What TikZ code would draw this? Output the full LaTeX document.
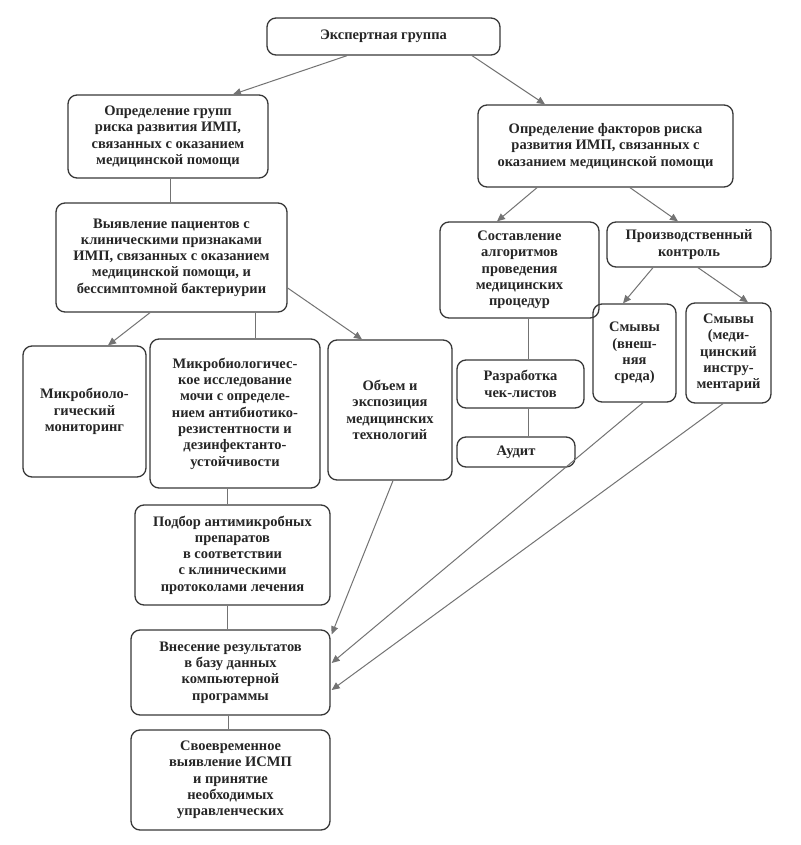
\documentclass[tikz,border=0pt]{standalone}
\usepackage{fontspec}
\setmainfont{Liberation Serif}
\usetikzlibrary{arrows.meta,calc}
\begin{document}
\begin{tikzpicture}[x=1pt,y=-1pt,
  box/.style={draw=black!78, line width=1.3pt, rounded corners=9pt, align=center,
    inner sep=0pt, font=\fontsize{14.5}{16.3}\selectfont\bfseries, text=black!85},
  sz/.style n args={2}{minimum width=#1pt, minimum height=#2pt},
  conn/.style={draw=black!55, line width=1pt},
  arr/.style={conn, -{Triangle[length=8pt,width=7pt]}}]
\useasboundingbox (0,0) rectangle (800,845);
\fill[white] (0,0) rectangle (800,845);

\node[box, sz={233}{37}] (exp) at (383.5,36.5) {Экспертная группа};
\node[box, sz={200}{83}] (a) at (168,136.5) {Определение групп\\риска развития ИМП,\\связанных с оказанием\\медицинской помощи};
\node[box, sz={255}{82}] (b) at (605.5,146) {Определение факторов риска\\развития ИМП, связанных с\\оказанием медицинской помощи};
\node[box, sz={231}{109}] (c) at (171.5,257.5) {Выявление пациентов с\\клиническими признаками\\ИМП, связанных с оказанием\\медицинской помощи, и\\бессимптомной бактериурии};
\node[box, sz={159}{96}] (d) at (519.5,270) {Составление\\алгоритмов\\проведения\\медицинских\\процедур};
\node[box, sz={164}{45}] (e) at (689,244.5) {Производственный\\контроль};
\node[box, sz={83}{98}] (s1) at (634.5,353) {Смывы\\(внеш-\\няя\\среда)};
\node[box, sz={85}{100}] (s2) at (728.5,353) {Смывы\\(меди-\\цинский\\инстру-\\ментарий};
\node[box, sz={127}{48}] (r) at (520.5,384) {Разработка\\чек-листов};
\node[box, sz={118}{30}] (au) at (516,452) {Аудит};
\node[box, sz={124}{140}] (ob) at (390,410) {Объем и\\экспозиция\\медицинских\\технологий};
\node[box, sz={123}{131}] (mm) at (84.5,411.5) {Микробиоло-\\гический\\мониторинг};
\node[box, sz={170}{149}] (mr) at (235,413.5) {Микробиологичес-\\кое исследование\\мочи с определе-\\нием антибиотико-\\резистентности и\\дезинфектанто-\\устойчивости};
\node[box, sz={195}{100}] (pd) at (232.5,555) {Подбор антимикробных\\препаратов\\в соответствии\\с клиническими\\протоколами лечения};
\node[box, sz={199}{85}] (vn) at (230.5,672.5) {Внесение результатов\\в базу данных\\компьютерной\\программы};
\node[box, sz={199}{100}] (sv) at (230.5,780) {Своевременное\\выявление ИСМП\\и принятие\\необходимых\\управленческих};

\draw[arr] ($(exp.south)+(-36.5,0)$) -- ($(a.north)+(65,0)$);
\draw[arr] ($(exp.south)+(88.5,0)$) -- ($(b.north)+(-60.5,0)$);
\draw[conn] ($(a.south)+(2,0)$) -- ($(c.north)+(-1.5,0)$);
\draw[arr] ($(b.south)+(-68.5,0)$) -- ($(d.north)+(-22.5,0)$);
\draw[arr] ($(b.south)+(24.5,0)$) -- ($(e.north)+(-11,0)$);
\draw[arr] ($(e.south)+(-36,0)$) -- ($(s1.north)+(-11.5,0)$);
\draw[arr] ($(e.south)+(9,0)$) -- ($(s2.north)+(19.5,0)$);
\draw[conn] ($(d.south)+(8.5,0)$) -- ($(r.north)+(7.5,0)$);
\draw[conn] ($(r.south)+(7.5,0)$) -- ($(au.north)+(12,0)$);
\draw[arr] ($(c.south)+(-21.5,0)$) -- ($(mm.north)+(23.5,0)$);
\draw[conn] ($(c.south)+(83.5,0)$) -- ($(mr.north)+(20,0)$);
\draw[arr] ($(c.east)+(0,30.5)$) -- ($(ob.north)+(-28,0)$);
\draw[conn] ($(mr.south)+(-8,0)$) -- ($(pd.north)+(-5.5,0)$);
\draw[conn] ($(pd.south)+(-5.5,0)$) -- ($(vn.north)+(-3.5,0)$);
\draw[conn] ($(vn.south)+(-2.5,0)$) -- ($(sv.north)+(-2.5,0)$);
\draw[arr] ($(ob.south)+(3,0)$) -- ($(vn.north east)+(1,5)$);
\draw[arr] ($(s1.south)+(8.5,0)$) -- ($(vn.east)+(1,-9.5)$);
\draw[arr] ($(s2.south)+(-5.5,0)$) -- ($(vn.east)+(1,17.5)$);
\end{tikzpicture}
\end{document}
